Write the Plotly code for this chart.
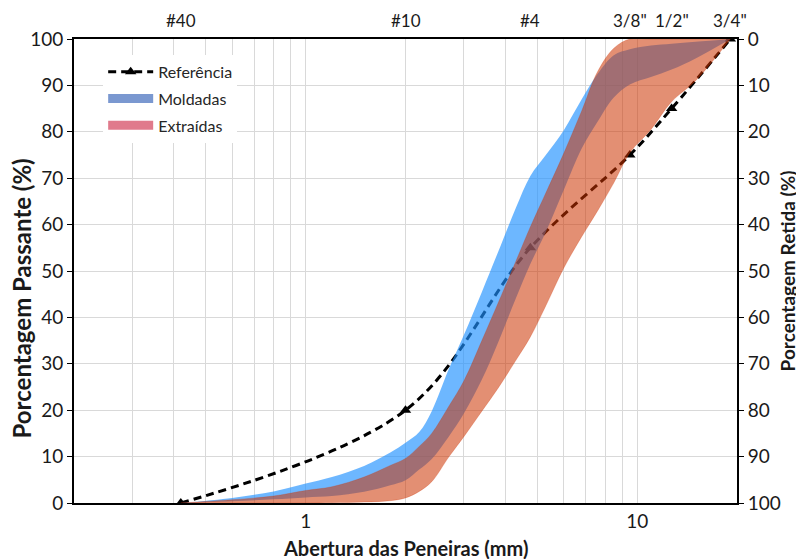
import numpy as np
import plotly.graph_objects as go

# ---------------- data ----------------
sieve_mm = [0.42, 2.0, 4.76, 9.5, 12.7, 19.1]
sieve_labels = ["#40", "#10", "#4", '3/8"', '1/2"', '3/4"']
ref_pass = [0, 20, 55, 75, 85, 100]

band_mm = [0.42, 0.6, 0.8, 1.0, 1.2, 1.5, 1.8, 2.0, 2.2, 2.4, 2.7, 3.0, 3.4,
           3.8, 4.3, 4.76, 5.3, 6.0, 6.8, 7.6, 8.5, 9.5, 11.0, 12.7, 15.0, 19.1]
moldadas_sup = [0, 1.1, 2.5, 4.2, 5.6, 8.0, 10.9, 13.0, 15.3, 19.8, 28.8, 36.2, 45.5,
                54.0, 63.5, 70.5, 75.0, 80.3, 87.0, 92.5, 96.5, 97.8, 98.6, 99.0, 99.4, 100]
moldadas_inf = [0, 0.4, 0.8, 1.2, 1.5, 2.4, 3.8, 4.9, 7.2, 9.5, 14.3, 19.3, 26.6,
                34.5, 44.0, 51.5, 58.4, 67.4, 76.4, 82.2, 87.4, 90.2, 91.8, 93.4, 95.8, 100]
extraidas_sup = [0, 0.7, 1.5, 2.7, 3.5, 5.6, 8.1, 9.6, 12.2, 15.0, 20.8, 26.3, 35.0,
                 43.0, 52.0, 59.5, 66.8, 75.3, 84.5, 93.0, 98.0, 100, 100, 100, 100, 100]
extraidas_inf = [0, 0, 0, 0, 0.05, 0.2, 0.5, 1.1, 2.5, 4.6, 9.9, 14.3, 19.8,
                 24.7, 30.7, 35.8, 42.5, 50.6, 57.4, 63.0, 69.0, 75.5, 80.5, 86.5, 91.0, 100]

y_ticks = [0, 10, 20, 30, 40, 50, 60, 70, 80, 90, 100]
grid_mm = [0.2, 0.3, 0.4, 0.5, 0.6, 0.7, 0.8, 0.9, 1, 2, 3, 4, 5, 6, 7, 8, 9, 10, 20]
grid_text = ["" if v not in (1, 10) else str(v) for v in grid_mm]

FONT = "Lato"
TXT = "#1a1a1a"
BLUE = "rgba(30,144,255,0.65)"
ORANGE = "rgba(204,51,0,0.55)"
EDGE = "rgba(204,51,0,0.35)"

fig = go.Figure()

# reference curve (drawn below the bands)
fig.add_trace(go.Scatter(
    x=sieve_mm, y=ref_pass, mode="lines+markers", name="Referência",
    legendgroup="a",
    line=dict(color="black", width=3, dash="8px,5px", shape="spline"),
    marker=dict(symbol="triangle-up", size=10, color="black")))

# Moldadas band
fig.add_trace(go.Scatter(x=band_mm, y=moldadas_inf, mode="lines",
                         line=dict(width=0, shape="spline", color=BLUE),
                         showlegend=False, hoverinfo="skip"))
fig.add_trace(go.Scatter(x=band_mm, y=moldadas_sup, mode="lines", fill="tonexty",
                         fillcolor=BLUE, line=dict(width=0, shape="spline", color=BLUE),
                         showlegend=False, hoverinfo="skip"))
# Extraidas band
fig.add_trace(go.Scatter(x=band_mm, y=extraidas_inf, mode="lines",
                         line=dict(width=0.7, shape="spline", color=EDGE),
                         showlegend=False, hoverinfo="skip"))
fig.add_trace(go.Scatter(x=band_mm, y=extraidas_sup, mode="lines", fill="tonexty",
                         fillcolor=ORANGE,
                         line=dict(width=0.7, shape="spline", color=EDGE),
                         showlegend=False, hoverinfo="skip"))

# legend proxies
fig.add_trace(go.Scatter(x=[None], y=[None], mode="lines", name="Moldadas",
                         legendgroup="b",
                         line=dict(color="rgb(122,152,208)", width=9)))
fig.add_trace(go.Scatter(x=[None], y=[None], mode="lines", name="Extraídas",
                         legendgroup="c",
                         line=dict(color="rgb(224,122,140)", width=9)))

# invisible trace for the right (retained) axis
fig.add_trace(go.Scatter(x=sieve_mm, y=[100 - v for v in ref_pass], yaxis="y2",
                         mode="lines", line=dict(width=0), opacity=0,
                         showlegend=False, hoverinfo="skip"))

for mm, lab in zip(sieve_mm, sieve_labels):
    fig.add_annotation(x=np.log10(mm), y=1, xref="x", yref="paper", text=lab,
                       showarrow=False, yanchor="bottom", yshift=6,
                       font=dict(family=FONT, size=17, color=TXT))

# axis titles
fig.add_annotation(x=-0.079, y=0.44, xref="paper", yref="paper",
                   text="<b>Porcentagem Passante (%)</b>", textangle=-90,
                   showarrow=False, xanchor="center", yanchor="middle",
                   font=dict(family=FONT, size=24, color=TXT))
fig.add_annotation(x=1.076, y=0.5, xref="paper", yref="paper",
                   text="<b>Porcentagem Retida (%)</b>", textangle=-90,
                   showarrow=False, xanchor="center", yanchor="middle",
                   font=dict(family=FONT, size=19, color=TXT))
fig.add_annotation(x=0.5, y=-0.097, xref="paper", yref="paper",
                   text="<b>Abertura das Peneiras (mm)</b>",
                   showarrow=False, xanchor="center", yanchor="middle",
                   font=dict(family=FONT, size=20, color=TXT))

fig.update_layout(
    width=796, height=551,
    margin=dict(l=66, r=67, t=31, b=56),
    paper_bgcolor="white", plot_bgcolor="white",
    font=dict(family=FONT, size=19, color=TXT),
    xaxis=dict(type="log", range=[np.log10(0.2), np.log10(20)],
               tickmode="array", tickvals=grid_mm, ticktext=grid_text,
               showgrid=True, gridcolor="#d9d9d9", gridwidth=1,
               showline=True, linecolor="black", linewidth=2, mirror=True,
               ticks="", zeroline=False, automargin=False),
    yaxis=dict(range=[0, 100], tickmode="array", tickvals=y_ticks,
               showgrid=True, gridcolor="#d9d9d9", gridwidth=1,
               showline=True, linecolor="black", linewidth=2, mirror=True,
               ticks="outside", ticklen=5, tickcolor="black", zeroline=False,
               automargin=False),
    yaxis2=dict(range=[100, 0], overlaying="y", side="right", tickmode="array",
                tickvals=y_ticks, showgrid=False, zeroline=False,
                showline=True, linecolor="black", linewidth=2,
                ticks="outside", ticklen=5, tickcolor="black", automargin=False),
    legend=dict(x=0.044, y=0.966, xanchor="left", yanchor="top",
                bgcolor="white", font=dict(family=FONT, size=16, color="#262626"),
                traceorder="grouped", itemwidth=45, tracegroupgap=3),
    showlegend=True,
)

fig.write_html("out.html")
